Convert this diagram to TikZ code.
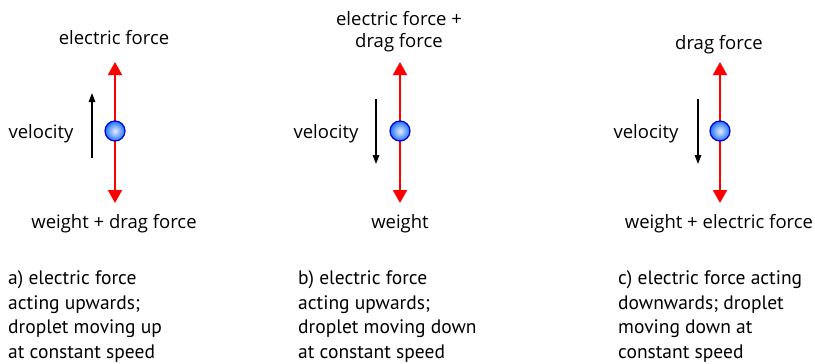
\documentclass[tikz,border=0pt]{standalone}
\usepackage{fontspec}
\setmainfont{Open Sans}
\newfontfamily\capfont{PT Sans}
\usetikzlibrary{arrows.meta}
\begin{document}
\begin{tikzpicture}[x=1pt,y=-1pt,
  lbl/.style={font=\fontsize{18.5}{21}\selectfont, align=center, inner sep=0pt, anchor=base},
  captxt/.style={font=\capfont\fontsize{19.5}{24.4}\selectfont, align=left, anchor=base west, inner sep=0pt},
  force/.style={draw=red, line width=2pt, -{Triangle[width=14pt,length=13pt]}},
  vel/.style={draw=black, line width=1.3pt, -{Triangle[width=6.5pt,length=9pt]}},
  drop/.style={circle, minimum size=20pt, inner sep=0pt, draw=blue!85!black, line width=1.2pt, inner color=blue!8, outer color=blue!60!cyan!90!white}
]
\useasboundingbox (0,0) rectangle (815,364);
% panel a
\coordinate (aC) at (115,131);
\coordinate (aT) at (115,62);
\coordinate (aB) at (115,203);
\coordinate (av1) at (92,158);
\coordinate (av2) at (92,93);
\draw[force] (aC) -- (aT);
\draw[force] (aC) -- (aB);
\node[drop] (a) at (aC) {};
\draw[vel] (av1) -- (av2);
\node[lbl] (aup) at (114,45) {electric force};
\node[lbl] (adn) at (114,228) {weight + drag force};
\node[lbl] (avl) at (41,138) {velocity};
\node[captxt] (acap) at (8,358) {a) electric force\\acting upwards;\\droplet moving up\\at constant speed};
% panel b
\coordinate (bC) at (400,131);
\coordinate (bT) at (400,62);
\coordinate (bB) at (400,203);
\coordinate (bv1) at (376,99);
\coordinate (bv2) at (376,164);
\draw[force] (bC) -- (bT);
\draw[force] (bC) -- (bB);
\node[drop] (b) at (bC) {};
\draw[vel] (bv1) -- (bv2);
\node[lbl] (bup) at (399,47) {electric force +\\drag force};
\node[lbl] (bdn) at (400,228) {weight};
\node[lbl] (bvl) at (326,138) {velocity};
\node[captxt] (bcap) at (298,358) {b) electric force\\acting upwards;\\droplet moving down\\at constant speed};
% panel c
\coordinate (cC) at (720,131);
\coordinate (cT) at (720,62);
\coordinate (cB) at (720,203);
\coordinate (cv1) at (698,99);
\coordinate (cv2) at (698,164);
\draw[force] (cC) -- (cT);
\draw[force] (cC) -- (cB);
\node[drop] (c) at (cC) {};
\draw[vel] (cv1) -- (cv2);
\node[lbl] (cup) at (719,49) {drag force};
\node[lbl] (cdn) at (719,228) {weight + electric force};
\node[lbl] (cvl) at (646,138) {velocity};
\node[captxt] (ccap) at (618,358) {c) electric force acting\\downwards; droplet\\moving down at\\constant speed};
\end{tikzpicture}
\end{document}
